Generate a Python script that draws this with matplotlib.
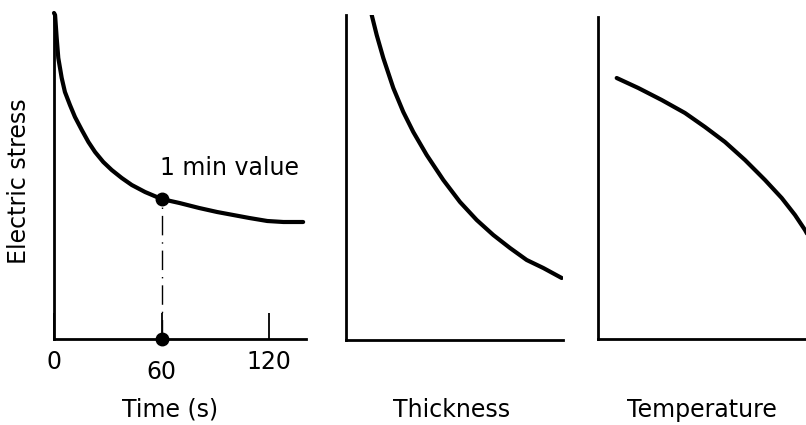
import matplotlib
matplotlib.use("Agg")
import matplotlib.pyplot as plt

# panel 1: electric stress vs time (arbitrary stress units)
time_s = [0, 0.6, 1.5, 2.4, 4.3, 6.1, 8.9, 11.7, 15.5, 19.2, 22.9, 27.5, 32.2, 37.8, 43.4,
          50.8, 60, 70, 81, 91, 100, 109, 119, 128, 139]
stress_time = [326, 324, 301, 281, 261, 247, 234, 222, 209, 197, 187, 177, 169, 161, 154,
               147, 140, 136, 131, 127, 124, 121, 118, 117, 117]
one_min = 60
one_min_stress = 140
time_ticks = [0, 60, 120]
time_ticklabels = ["0", "60", "120"]

# panel 2: stress vs thickness
thickness = [25.7, 30.7, 37.3, 47.3, 57.3, 67.3, 80.7, 97.3, 114, 130.7, 147.3, 164, 180.7, 197.3, 215.7]
stress_thick = [325, 305, 282, 252, 228, 208, 185, 160, 138, 120, 105, 92, 80, 72, 62]

# panel 3: stress vs temperature
temperature = [18.7, 40.3, 63.7, 87, 107, 127, 147, 167, 183.7, 197, 207, 212]
stress_temp = [261, 251, 239, 226, 212, 197, 179, 159, 141, 124, 109, 100]

W, H = 806, 425
FS = 17
fig = plt.figure(figsize=(W / 100, H / 100), dpi=100)


def box(left, right, bottom, top):
    return [left / W, (H - bottom) / H, (right - left) / W, (bottom - top) / H]


def style(ax):
    for s in ["top", "right"]:
        ax.spines[s].set_visible(False)
    for s in ["left", "bottom"]:
        ax.spines[s].set_linewidth(2)
        ax.spines[s].set_color("black")
    ax.set_yticks([])


ax1 = fig.add_axes(box(54, 306, 339, 13))
ax2 = fig.add_axes(box(346, 563, 340, 15))
ax3 = fig.add_axes(box(598, 830, 339, 17))
for ax in (ax1, ax2, ax3):
    style(ax)

ax1.plot(time_s, stress_time, color="black", lw=3, solid_capstyle="round",
         solid_joinstyle="round", clip_on=False)
ax1.plot([one_min, one_min], [0, one_min_stress], color="black", lw=1,
         linestyle=(0, (14, 5, 1, 5)))
ax1.plot([one_min, one_min], [one_min_stress, 0], "o", color="black", ms=9, clip_on=False)
ax1.set_xlim(0, 140.6)
ax1.set_ylim(0, 326)
ax1.set_xticks(time_ticks)
ax1.set_xticklabels(time_ticklabels, fontsize=FS)
ax1.tick_params(axis="x", direction="in", length=19, width=1.3, pad=8)
ax1.xaxis.get_major_ticks()[1].set_pad(15)

ax2.plot(thickness, stress_thick, color="black", lw=3, solid_capstyle="round",
         solid_joinstyle="round")
ax2.set_xlim(0, 217)
ax2.set_ylim(0, 325)
ax2.set_xticks([])

ax3.plot(temperature, stress_temp, color="black", lw=3, solid_capstyle="round",
         solid_joinstyle="round")
ax3.set_xlim(0, 232)
ax3.set_ylim(0, 322)
ax3.set_xticks([])

fig.text(160 / W, 1 - 175 / H, "1 min value", fontsize=FS, ha="left", va="baseline")
fig.text(170 / W, 1 - 417 / H, "Time (s)", fontsize=FS, ha="center", va="baseline")
fig.text(452 / W, 1 - 417 / H, "Thickness", fontsize=FS, ha="center", va="baseline")
fig.text(702 / W, 1 - 417 / H, "Temperature", fontsize=FS, ha="center", va="baseline")
fig.text(19 / W, 1 - 181 / H, "Electric stress", fontsize=FS, rotation=90,
         ha="center", va="center")

fig.savefig("out.png", dpi=100)
